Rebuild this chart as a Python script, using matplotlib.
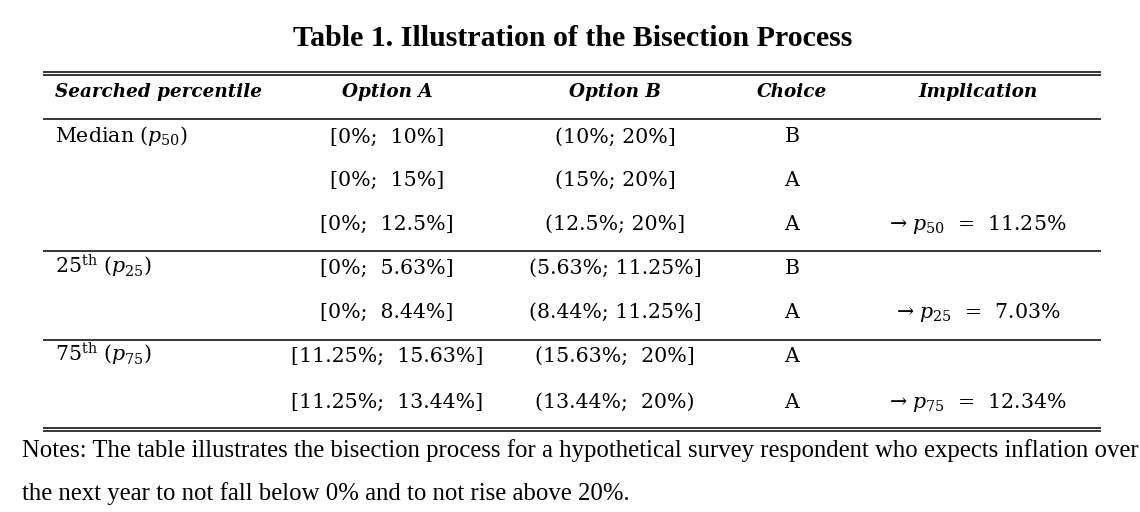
import matplotlib
matplotlib.use("Agg")
import matplotlib.pyplot as plt

plt.rcParams['font.family'] = ['Liberation Serif', 'DejaVu Serif']
plt.rcParams['mathtext.fontset'] = 'dejavuserif'

title = "Table 1. Illustration of the Bisection Process"
headers = ["Searched percentile", "Option A", "Option B", "Choice", "Implication"]
percentiles = [r"Median ($p_{50}$)", "", "", r"25$^{\mathrm{th}}$ ($p_{25}$)", "",
               r"75$^{\mathrm{th}}$ ($p_{75}$)", ""]
option_a = ["[0%;  10%]", "[0%;  15%]", "[0%;  12.5%]", "[0%;  5.63%]", "[0%;  8.44%]",
            "[11.25%;  15.63%]", "[11.25%;  13.44%]"]
option_b = ["(10%; 20%]", "(15%; 20%]", "(12.5%; 20%]", "(5.63%; 11.25%]", "(8.44%; 11.25%]",
            "(15.63%;  20%]", "(13.44%;  20%)"]
choices = ["B", "A", "A", "B", "A", "A", "A"]
implications = ["", "", r"→ $p_{50}$  =  11.25%", "", r"→ $p_{25}$  =  7.03%", "", r"→ $p_{75}$  =  12.34%"]
notes = ["Notes: The table illustrates the bisection process for a hypothetical survey respondent who expects inflation over",
         "the next year to not fall below 0% and to not rise above 20%."]

W, H = 1140, 512
fig = plt.figure(figsize=(W / 100, H / 100), dpi=100)
ax = fig.add_axes([0, 0, 1, 1])
ax.set_xlim(0, W)
ax.set_ylim(H, 0)
ax.axis('off')

x0, x1 = 43, 1101
body = ['DejaVu Serif']

ax.text(573, 46, title, ha='center', va='baseline', fontsize=21.5, fontweight='bold')

# rules
for y in (71.5, 74.5):
    ax.plot([x0, x1], [y, y], color='black', lw=1.1, solid_capstyle='butt')
for y in (119, 251, 340):
    ax.plot([x0, x1], [y, y], color='black', lw=1.1, solid_capstyle='butt')
for y in (428, 431):
    ax.plot([x0, x1], [y, y], color='black', lw=1.1, solid_capstyle='butt')

col_x = [55, 387, 615, 792, 978]
aligns = ['left', 'center', 'center', 'center', 'center']
hy = 97
for x, a, h in zip(col_x, aligns, headers):
    ax.text(x, hy, h, ha=a, va='baseline', fontsize=13.2, fontweight='bold',
            fontstyle='italic', family=body)

row_y = [142.5, 186, 229.5, 274, 318, 362, 408]
for i, y in enumerate(row_y):
    vals = [percentiles[i], option_a[i], option_b[i], choices[i], implications[i]]
    for x, a, v in zip(col_x, aligns, vals):
        if v:
            ax.text(x, y, v, ha=a, va='baseline', fontsize=14.8, family=body)

ax.text(22, 457.5, notes[0], ha='left', va='baseline', fontsize=17.8)
ax.text(22, 500, notes[1], ha='left', va='baseline', fontsize=17.8)

fig.savefig("out.png", dpi=100)
